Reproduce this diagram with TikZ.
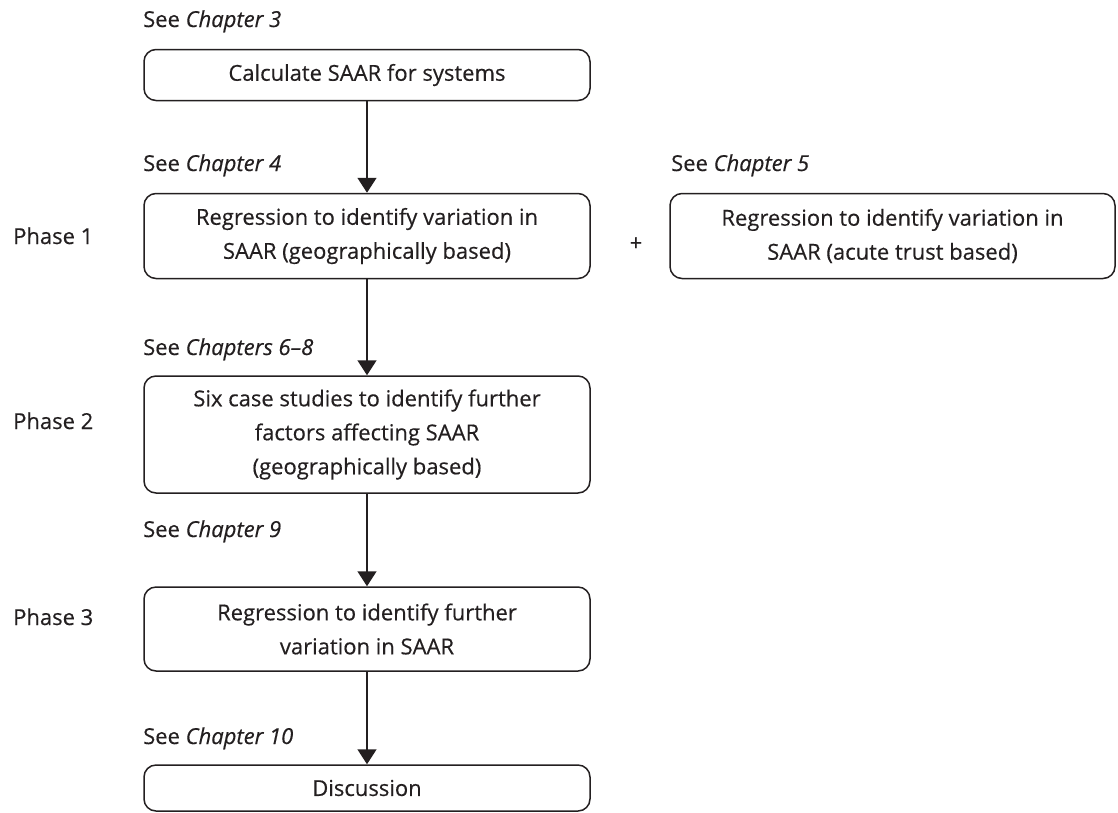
\documentclass[tikz,border=0pt]{standalone}
\usepackage{fontspec}
\setmainfont{Open Sans}[FakeBold=0.4]
\usetikzlibrary{arrows.meta}
\definecolor{ink}{HTML}{231F20}
\begin{document}
\begin{tikzpicture}[x=1pt,y=-1pt,
  font=\fontsize{22}{34}\selectfont,
  every node/.style={text=ink},
  flowbox/.style={draw=ink, line width=1.5pt, rounded corners=12pt,
    minimum width=446pt, inner sep=0pt, align=center},
  chap/.style={anchor=base west, inner sep=0pt},
  phase/.style={anchor=base west, inner sep=0pt},
  flow/.style={draw=ink, line width=1.5pt, -{Triangle[length=15pt,width=19pt]}}]
\useasboundingbox (0,0) rectangle (1118,812);

% main column of steps
\node[flowbox, minimum height=51pt]  (calc)  at (367,75)    {Calculate SAAR for systems};
\node[flowbox, minimum height=85pt]  (geo)   at (367,236)   {Regression to identify variation in\\SAAR (geographically based)};
\node[flowbox, minimum height=85pt, minimum width=445pt] (acute) at (892.5,236) {Regression to identify variation in\\SAAR (acute trust based)};
\node[flowbox, minimum height=117pt] (cases) at (367,434.5) {Six case studies to identify further\\factors affecting SAAR\\(geographically based)};
\node[flowbox, minimum height=84pt]  (further) at (367,629) {Regression to identify further\\variation in SAAR};
\node[flowbox, minimum height=46pt]  (disc)  at (367,788)   {Discussion};

\node (plus) at (636,244) {+};

% chapter references
\node[chap] (c3)  at (143,27)  {See \textit{Chapter 3}};
\node[chap] (c4)  at (143,171) {See \textit{Chapter 4}};
\node[chap] (c5)  at (671,171) {See \textit{Chapter 5}};
\node[chap] (c68) at (143,355) {See \textit{Chapters 6–8}};
\node[chap] (c9)  at (143,537) {See \textit{Chapter 9}};
\node[chap] (c10) at (143,744) {See \textit{Chapter 10}};

% phase labels
\node[phase] (p1) at (13,244) {Phase 1};
\node[phase] (p2) at (13,429) {Phase 2};
\node[phase] (p3) at (13,625) {Phase 3};

% connectors
\draw[flow] (calc.south) -- (geo.north);
\draw[flow] (geo.south) -- (cases.north);
\draw[flow] (cases.south) -- (further.north);
\draw[flow] (further.south) -- (disc.north);
\end{tikzpicture}
\end{document}
